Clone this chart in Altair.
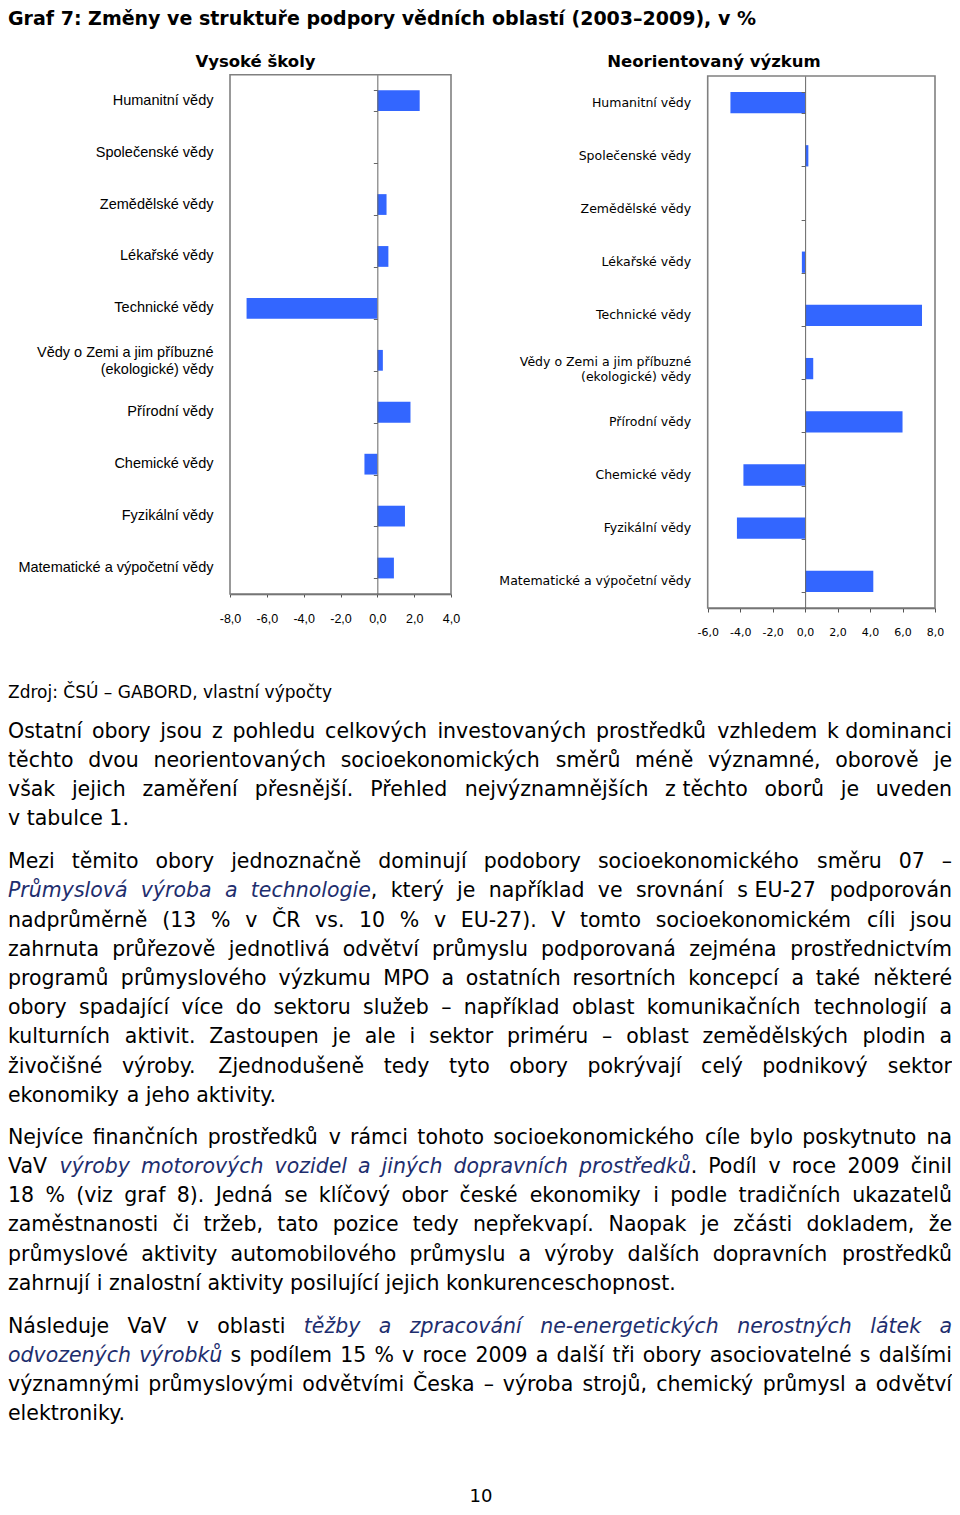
import unicodedata
import altair as alt
import pandas as pd

# ---------------- data ----------------
obory = [
    "Humanitní vědy",
    "Společenské vědy",
    "Zemědělské vědy",
    "Lékařské vědy",
    "Technické vědy",
    "Vědy o Zemi a jim příbuzné (ekologické) vědy",
    "Přírodní vědy",
    "Chemické vědy",
    "Fyzikální vědy",
    "Matematické a výpočetní vědy",
]
vysoke_skoly = [2.3, 0.0, 0.5, 0.6, -7.1, 0.3, 1.8, -0.7, 1.5, 0.9]
neorientovany = [-4.6, 0.2, 0.0, -0.2, 7.2, 0.5, 6.0, -3.8, -4.2, 4.2]
osa_vs = [-8, -6, -4, -2, 0, 2, 4]
osa_nv = [-6, -4, -2, 0, 2, 4, 6, 8]

nadpis = "Graf 7: Změny ve struktuře podpory vědních oblastí (2003–2009), v %"
titulky_panelu = ["Vysoké školy", "Neorientovaný výzkum"]
zdroj = "Zdroj: ČSÚ – GABORD, vlastní výpočty"
odstavec_1 = [
    "Ostatní obory jsou z pohledu celkových investovaných prostředků vzhledem k\u00a0dominanci",
    "těchto dvou neorientovaných socioekonomických směrů méně významné, oborově je",
    "však jejich zaměření přesnější. Přehled nejvýznamnějších z\u00a0těchto oborů je uveden",
    "v tabulce 1.",
]
odstavec_2 = [
    "Mezi těmito obory jednoznačně dominují podobory socioekonomického směru 07 –",
    "*Průmyslová výroba a technologie*, který je například ve srovnání s\u00a0EU-27 podporován",
    "nadprůměrně (13 % v ČR vs. 10 % v EU-27). V tomto socioekonomickém cíli jsou",
    "zahrnuta průřezově jednotlivá odvětví průmyslu podporovaná zejména prostřednictvím",
    "programů průmyslového výzkumu MPO a ostatních resortních koncepcí a také některé",
    "obory spadající více do sektoru služeb – například oblast komunikačních technologií a",
    "kulturních aktivit. Zastoupen je ale i sektor priméru – oblast zemědělských plodin a",
    "živočišné výroby. Zjednodušeně tedy tyto obory pokrývají celý podnikový sektor",
    "ekonomiky a jeho aktivity.",
]
odstavec_3 = [
    "Nejvíce finančních prostředků v rámci tohoto socioekonomického cíle bylo poskytnuto na",
    "VaV *výroby motorových vozidel a jiných dopravních prostředků*. Podíl v roce 2009 činil",
    "18 % (viz graf 8). Jedná se klíčový obor české ekonomiky i podle tradičních ukazatelů",
    "zaměstnanosti či tržeb, tato pozice tedy nepřekvapí. Naopak je zčásti dokladem, že",
    "průmyslové aktivity automobilového průmyslu a výroby dalších dopravních prostředků",
    "zahrnují i znalostní aktivity posilující jejich konkurenceschopnost.",
]
odstavec_4 = [
    "Následuje VaV v oblasti *těžby a zpracování ne-energetických nerostných látek a*",
    "*odvozených výrobků* s podílem 15 % v roce 2009 a další tři obory asociovatelné s dalšími",
    "významnými průmyslovými odvětvími Česka – výroba strojů, chemický průmysl a odvětví",
    "elektroniky.",
]
cislo_strany = "10"

# ---------------- layout ----------------
W, H = 944, 1499
TEXT_RIGHT = 944.0
BAR = "#3366FF"
FRAME = "#808080"
ITAL = "#1E2E6E"
BLACK = "#000000"

# DejaVu Sans advance widths (em)
ADV = {
    " ": .318, "\u00a0": .318, "!": .401, "%": .952, "(": .390, ")": .390, ",": .318,
    "-": .361, ".": .318, ":": .337, "–": .500,
    "A": .684, "B": .686, "C": .698, "D": .770, "E": .632, "F": .575, "G": .775,
    "H": .752, "I": .295, "J": .295, "K": .656, "L": .557, "M": .863, "N": .748,
    "O": .787, "P": .603, "R": .695, "S": .635, "T": .611, "U": .732, "V": .684,
    "Z": .685,
    "a": .613, "b": .635, "c": .550, "d": .635, "e": .615, "f": .352, "g": .635,
    "h": .634, "i": .278, "j": .278, "k": .579, "l": .278, "m": .974, "n": .634,
    "o": .612, "p": .635, "q": .635, "r": .411, "s": .521, "t": .392, "u": .634,
    "v": .592, "w": .818, "x": .592, "y": .592, "z": .525,
}
for d in "0123456789":
    ADV[d] = .636


def tw(s):
    return sum(ADV.get(unicodedata.normalize("NFD", c)[0], 0.6) for c in s)


records = []


def add(x, y, t, fs, style="normal", weight="normal", align="left", color=BLACK):
    records.append(dict(x=x, y=y, t=t, fs=fs, st=style, fw=weight, al=align, c=color))


def set_line(markup, y, justify, size=20.5, x0=0.0, x1=TEXT_RIGHT):
    segs = markup.split("*")
    words = []
    new = True
    for i, seg in enumerate(segs):
        it = i % 2 == 1
        for j, p in enumerate(seg.split(" ")):
            if j > 0:
                new = True
            if not p:
                continue
            if new or not words:
                words.append([])
                new = False
            words[-1].append((p, it))
    wl = [sum(tw(p) for p, _ in w) * size for w in words]
    n = len(words)
    if justify and n > 1:
        gap = max((x1 - x0 - sum(wl)) / (n - 1), 0.2 * size)
    else:
        gap = ADV[" "] * size
    x = x0
    for k, w in enumerate(words):
        if justify and k == n - 1 and n > 1 and len(w) == 1:
            p, it = w[0]
            add(x1, y, p, size, "italic" if it else "normal", "normal", "right",
                ITAL if it else BLACK)
        else:
            px = x
            for p, it in w:
                add(px, y, p, size, "italic" if it else "normal", "normal", "left",
                    ITAL if it else BLACK)
                px += tw(p) * size
        x += wl[k] + gap


# headings
add(0, 17, nadpis, 19, weight="bold")
add(247.5, 58.7, titulky_panelu[0], 16.5, weight="bold", align="center")
add(706, 59, titulky_panelu[1], 16.5, weight="bold", align="center")
add(0, 689.7, zdroj, 17)

PITCH = 29.2
for lines, base in [(odstavec_1, 729.5), (odstavec_2, 860.2),
                    (odstavec_3, 1135.7), (odstavec_4, 1324.7)]:
    for i, line in enumerate(lines):
        set_line(line, base + i * PITCH, justify=(i < len(lines) - 1))

add(473, 1494, cislo_strany, 18, align="center")

txt = pd.DataFrame(records)

text_layers = []
for (st, fw, al), sub in txt.groupby(["st", "fw", "al"]):
    text_layers.append(
        alt.Chart(sub).mark_text(align=al, baseline="alphabetic", font="DejaVu Sans",
                                 fontStyle=st, fontWeight=fw).encode(
            x=alt.X("x:Q", scale=None, axis=None),
            y=alt.Y("y:Q", scale=None, axis=None),
            text="t:N",
            size=alt.Size("fs:Q", scale=None, legend=None),
            color=alt.Color("c:N", scale=None, legend=None),
        )
    )

MULTI_TEST = "indexof(datum.label, '(ekolog') > 0"
TICK_EXPR = ("(datum.value < 0 ? '-' : '') + "
             "replace(format(abs(datum.value), '.1f'), '.', ',')")


def label_expr(pad_count):
    pad = "\u00a0" * pad_count
    return (MULTI_TEST + " ? [slice(datum.label, 0, indexof(datum.label, ' (')), "
            "slice(datum.label, indexof(datum.label, ' (') + 1) + '" + pad + "'] "
            ": datum.label")


def panel(values, fx, fy, fw, fh, domain, ticks, lab_font, lab_size, line_h, pad_count,
          multi_shift, tick_font, tick_size, tick_len, tick_pad):
    df = pd.DataFrame({"obor": obory, "hodnota": values})
    zero_px = fx + fw * (0 - domain[0]) / (domain[1] - domain[0])
    xs = alt.Scale(domain=domain, range=[fx, fx + fw], nice=False, zero=False)
    ys = alt.Scale(type="band", domain=obory, range=[fy, fy + fh],
                   paddingInner=0.6, paddingOuter=0.3)

    frame = alt.Chart(pd.DataFrame({"k": [0]})).mark_rect(
        fill="transparent", stroke=FRAME, strokeWidth=1.6).encode(
        x=alt.value(fx), x2=alt.value(fx + fw), y=alt.value(fy), y2=alt.value(fy + fh))

    bars = alt.Chart(df).mark_bar(color=BAR).encode(
        x=alt.X("hodnota:Q", scale=xs, title=None,
                axis=alt.Axis(orient="bottom", offset=fy + fh - H, values=ticks,
                              labelExpr=TICK_EXPR, grid=False, tickSize=tick_len,
                              tickColor="#555555", domainColor="#555555", domainWidth=1.6,
                              labelFont=tick_font, labelFontSize=tick_size,
                              labelColor=BLACK, labelPadding=tick_pad,
                              labelFlush=False, labelOverlap=False)),
        x2=alt.datum(0),
        y=alt.Y("obor:N", scale=ys, title=None,
                axis=alt.Axis(orient="left", offset=-zero_px, labels=False,
                              domain=True, domainColor="#666666", domainWidth=1,
                              ticks=True, tickBand="extent", tickSize=4,
                              tickColor="#666666", grid=False, zindex=1)),
    )

    labels = alt.Chart(df).mark_point(opacity=0).encode(
        x=alt.value(fx),
        y=alt.Y("obor:N", scale=ys, title=None,
                axis=alt.Axis(orient="left", offset=-fx, domain=False, ticks=False,
                              tickSize=0, labelPadding=17, labelFont=lab_font,
                              labelFontSize=lab_size, labelColor=BLACK,
                              labelExpr=label_expr(pad_count), labelLimit=400,
                              labelLineHeight=line_h, grid=False,
                              labelOffset={"condition": {"test": MULTI_TEST,
                                                         "value": multi_shift},
                                           "value": 0})),
    )
    return [frame, bars, labels]


left = panel(vysoke_skoly, 222, 66.7, 221, 519.3, [-8, 4], osa_vs,
             "Liberation Sans", 14.5, 17, 8, -7, "Liberation Sans", 12.5, 3, 15)
right = panel(neorientovany, 699.7, 68, 227.3, 532, [-6, 8], osa_nv,
              "DejaVu Sans", 12.5, 15, 8, -6.5, "DejaVu Sans", 11, 4, 14)

chart = alt.layer(*left, *right, *text_layers).resolve_scale(
    x="independent", y="independent"
).properties(
    width=W, height=H, padding=0, autosize=alt.AutoSizeParams(type="none")
).configure_view(stroke="transparent")

chart.save("out.html", embed_options={"renderer": "svg", "actions": False})
